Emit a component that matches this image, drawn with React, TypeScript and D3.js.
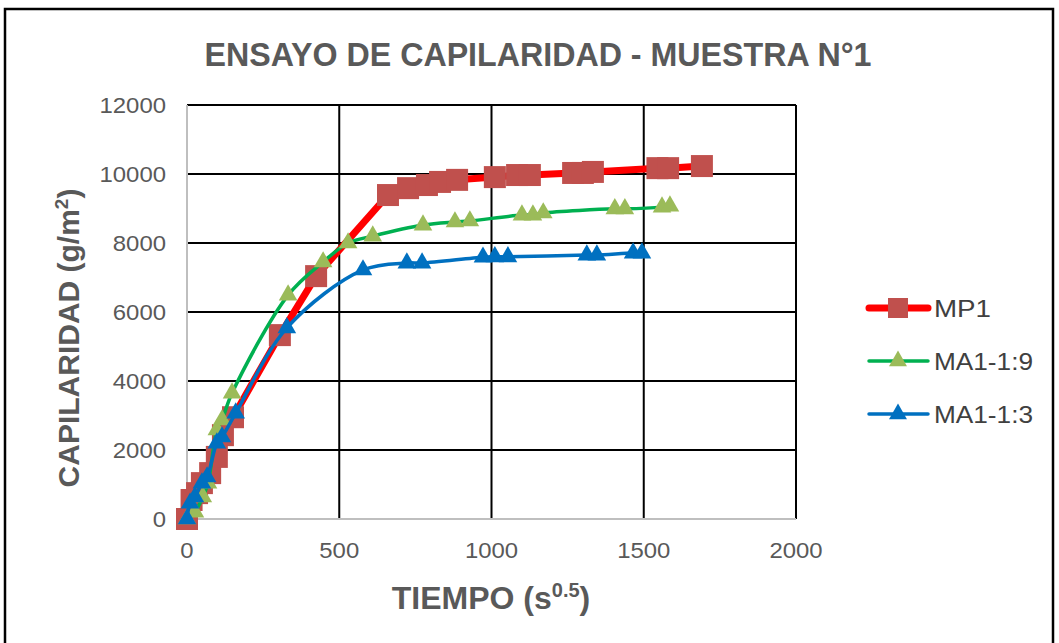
import React from "react";
import * as d3 from "d3";

const xTicks = [0, 500, 1000, 1500, 2000];
const yTicks = [0, 2000, 4000, 6000, 8000, 10000, 12000];

const mp1X = [0, 15, 33, 49, 76, 98, 118, 151, 305, 424, 660, 726, 788, 831, 887, 1011, 1084, 1126, 1268, 1300, 1333, 1545, 1580, 1691];
const mp1Y = [0, 550, 750, 1040, 1330, 1800, 2430, 2950, 5330, 7040, 9390, 9590, 9680, 9770, 9830, 9910, 9970, 9970, 10030, 10030, 10060, 10170, 10170, 10230];

const ma19X = [0, 26, 52, 69, 98, 115, 148, 332, 447, 529, 610, 775, 880, 929, 1100, 1136, 1170, 1405, 1438, 1560, 1586];
const ma19Y = [0, 200, 640, 1040, 2580, 2870, 3650, 6490, 7450, 8000, 8200, 8520, 8610, 8640, 8810, 8810, 8870, 8990, 8990, 9040, 9070];

const ma13X = [0, 10, 26, 49, 66, 98, 115, 160, 328, 578, 722, 772, 972, 1011, 1054, 1313, 1346, 1465, 1494];
const ma13Y = [0, 460, 640, 1040, 1220, 2200, 2380, 3070, 5540, 7220, 7420, 7420, 7590, 7600, 7600, 7650, 7650, 7710, 7710];

const seriesNames = ["MP1", "MA1-1:9", "MA1-1:3"];

const W = 1059;
const H = 643;
const plot = { left: 187, right: 796, top: 105, bottom: 519 };

export default function App() {
  const x = d3.scaleLinear().domain([0, 2000]).range([plot.left, plot.right]);
  const y = d3.scaleLinear().domain([0, 12000]).range([plot.bottom, plot.top]);

  const series = [
    { name: seriesNames[0], xs: mp1X, ys: mp1Y, line: "#FF0000", lw: 7, marker: "square", fill: "#C0504D", curve: d3.curveLinear },
    { name: seriesNames[1], xs: ma19X, ys: ma19Y, line: "#00B050", lw: 3.5, marker: "triangle", fill: "#9BBB59", curve: d3.curveCatmullRom.alpha(0.5) },
    { name: seriesNames[2], xs: ma13X, ys: ma13Y, line: "#0070C0", lw: 3.5, marker: "triangle", fill: "#0070C0", curve: d3.curveCatmullRom.alpha(0.5) },
  ];

  const sq = d3.symbol(d3.symbolSquare, 22 * 22)()!;
  const tri = d3.symbol(d3.symbolTriangle, 150)()!;
  const sqLeg = d3.symbol(d3.symbolSquare, 20 * 20)()!;
  const triLeg = d3.symbol(d3.symbolTriangle, 140)()!;

  const legendY = [308, 361, 414];
  const fontSans = "'Liberation Sans', Arial, sans-serif";

  return (
    <svg width={W} height={H} style={{ position: "absolute", left: 0, top: 0, background: "#fff" }}>
      <rect x={0} y={0} width={W} height={H} fill="#fff" />
      <rect x={5} y={9} width={1048} height={660} fill="none" stroke="#000" strokeWidth={2.5} />
      <text
        x={538}
        y={66}
        textAnchor="middle"
        fontFamily="'Liberation Sans Narrow', 'Arial Narrow', 'Liberation Sans', Arial, sans-serif"
        fontWeight="bold"
        fontSize={34}
        fill="#595959"
        textLength={667}
        lengthAdjust="spacingAndGlyphs"
      >
        ENSAYO DE CAPILARIDAD - MUESTRA N°1
      </text>

      {/* gridlines */}
      {yTicks.filter((t) => t !== 0).map((t) => (
        <line key={"gy" + t} x1={plot.left} x2={plot.right} y1={y(t)} y2={y(t)} stroke="#000" strokeWidth={2} />
      ))}
      {xTicks.filter((t) => t !== 0).map((t) => (
        <line key={"gx" + t} x1={x(t)} x2={x(t)} y1={plot.top} y2={plot.bottom} stroke="#000" strokeWidth={2} />
      ))}
      {/* axes */}
      <line x1={plot.left} x2={plot.left} y1={plot.top} y2={plot.bottom} stroke="#BFBFBF" strokeWidth={2} />
      <line x1={plot.left} x2={plot.right} y1={plot.bottom} y2={plot.bottom} stroke="#BFBFBF" strokeWidth={2} />

      {/* tick labels */}
      {yTicks.map((t) => (
        <text key={"ty" + t} x={166} y={y(t) + 8} textAnchor="end" fontFamily={fontSans} fontSize={22}
          fill="#595959" textLength={String(t).length * 13.3} lengthAdjust="spacingAndGlyphs">
          {t}
        </text>
      ))}
      {xTicks.map((t) => (
        <text key={"tx" + t} x={x(t)} y={558} textAnchor="middle" fontFamily={fontSans} fontSize={22}
          fill="#595959" textLength={String(t).length * 13.3} lengthAdjust="spacingAndGlyphs">
          {t}
        </text>
      ))}

      {/* axis titles */}
      <text
        transform={`translate(79, 338) rotate(-90)`}
        textAnchor="middle"
        fontFamily={fontSans}
        fontWeight="bold"
        fontSize={30}
        fill="#595959"
      >
        CAPILARIDAD (g/m<tspan dy={-11} fontSize={19}>2</tspan><tspan dy={11}>)</tspan>
      </text>
      <text
        x={491}
        y={609}
        textAnchor="middle"
        fontFamily="'Liberation Sans Narrow', 'Arial Narrow', 'Liberation Sans', Arial, sans-serif"
        fontWeight="bold"
        fontSize={32}
        fill="#595959"
      >
        TIEMPO (s<tspan dy={-12} fontSize={20}>0.5</tspan><tspan dy={12}>)</tspan>
      </text>

      {/* series */}
      {series.map((s) => {
        const pts: [number, number][] = s.xs.map((v, i) => [v, s.ys[i]]);
        const path = d3
          .line<[number, number]>()
          .x((d) => x(d[0]))
          .y((d) => y(d[1]))
          .curve(s.curve)(pts)!;
        return (
          <g key={s.name}>
            <path d={path} fill="none" stroke={s.line} strokeWidth={s.lw} strokeLinejoin="round" strokeLinecap="round" />
            {pts.map((p, i) => (
              <path
                key={i}
                d={s.marker === "square" ? sq : tri}
                transform={`translate(${x(p[0])},${y(p[1])})`}
                fill={s.fill}
              />
            ))}
          </g>
        );
      })}

      {/* legend */}
      {series.map((s, i) => (
        <g key={"leg" + s.name} transform={`translate(0, ${legendY[i]})`}>
          <line x1={869} x2={928} y1={0} y2={0} stroke={s.line} strokeWidth={s.lw} strokeLinecap="round" />
          <path d={s.marker === "square" ? sqLeg : triLeg} transform="translate(898, 0)" fill={s.fill} />
          <text x={934} y={9} fontFamily={fontSans} fontSize={24} fill="#404040"
            textLength={s.name.length === 3 ? 57 : 99} lengthAdjust="spacingAndGlyphs">
            {s.name}
          </text>
        </g>
      ))}
    </svg>
  );
}
